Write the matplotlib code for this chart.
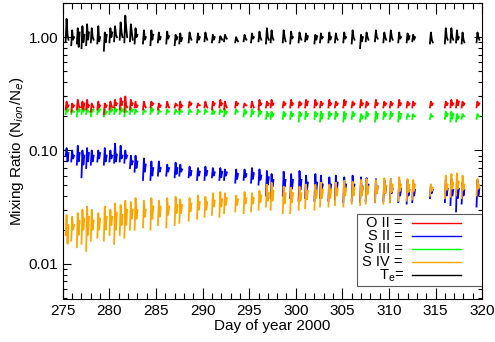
import numpy as np
import matplotlib
matplotlib.use("Agg")
import matplotlib.pyplot as plt
from matplotlib.ticker import FixedLocator, FuncFormatter, MultipleLocator
from matplotlib.patches import Rectangle

plt.rcParams['font.family'] = ['Liberation Sans', 'DejaVu Sans']

# start day of each observing segment
seg_day = [275.3, 275.9, 276.5, 277.0, 277.5, 278.0, 278.7, 279.4, 280.0, 280.5,
           281.1, 281.6, 282.2, 282.7, 283.6, 284.4, 285.2, 286.1, 287.0, 287.5,
           288.5, 289.4, 290.2, 291.0, 291.8, 292.3, 293.5, 294.4, 295.2, 296.0,
           296.8, 297.3, 298.6, 299.4, 300.3, 301.0, 302.0, 302.6, 303.5, 304.2,
           305.1, 306.0, 306.9, 307.5, 308.5, 309.4, 310.1, 311.0, 311.9, 312.5,
           314.4, 316.0, 316.6, 317.2, 317.8, 319.4]

# four samples per segment
te = [[0.92, 1.45, 1.05, 0.95], [0.85, 1.15, 0.95, 1.0], [0.88, 1.2, 0.82, 1.1], [0.8, 1.25, 0.9, 1.05],
      [0.85, 1.3, 0.95, 1.1], [0.9, 1.2, 1.0, 0.95], [0.88, 1.25, 0.92, 1.0], [0.76, 1.1, 0.9, 1.05],
      [0.9, 1.2, 1.0, 1.1], [0.92, 1.25, 1.05, 1.0], [0.95, 1.35, 1.1, 1.0], [0.9, 1.55, 1.2, 1.0],
      [0.92, 1.3, 1.1, 0.95], [0.88, 1.2, 1.0, 1.05], [0.88, 1.15, 0.95, 1.0], [0.85, 1.15, 0.95, 1.05],
      [0.9, 1.1, 0.95, 1.0], [0.88, 1.12, 0.97, 1.02], [0.85, 1.05, 0.95, 1.0], [0.88, 1.08, 0.92, 0.98],
      [0.9, 1.1, 1.0, 0.95], [0.9, 1.08, 0.95, 1.0], [0.92, 1.1, 1.0, 0.95], [0.9, 1.05, 0.95, 1.0],
      [0.9, 1.02, 0.98, 0.95], [0.92, 1.05, 1.0, 0.97], [0.9, 1.0, 0.95, 0.92], [0.92, 1.05, 0.98, 0.95],
      [0.9, 1.08, 0.97, 1.0], [0.92, 1.12, 1.0, 0.95], [0.88, 1.2, 1.0, 0.95], [0.9, 1.15, 1.0, 0.95],
      [0.9, 1.15, 1.0, 0.92], [0.88, 1.12, 0.97, 1.0], [0.9, 1.1, 1.0, 0.95], [0.92, 1.08, 0.95, 1.02],
      [0.88, 1.05, 0.95, 1.02], [0.9, 1.08, 0.97, 1.0], [0.9, 1.1, 0.95, 1.0], [0.9, 1.08, 0.98, 0.95],
      [0.9, 1.1, 0.97, 1.0], [0.88, 1.15, 1.0, 0.95], [0.8, 1.05, 0.92, 1.0], [0.92, 1.1, 1.0, 0.95],
      [0.92, 1.15, 1.0, 0.97], [0.9, 1.1, 1.0, 0.95], [0.92, 1.15, 1.0, 0.95], [0.9, 1.1, 0.97, 1.0],
      [0.9, 1.08, 0.95, 1.02], [0.92, 1.05, 0.95, 1.0], [0.88, 1.1, 0.95, 0.9], [0.88, 1.2, 1.0, 0.95],
      [0.9, 1.2, 1.0, 0.95], [0.9, 1.15, 0.95, 1.0], [0.88, 1.1, 0.95, 0.9], [0.9, 1.1, 1.0, 0.95]]

o2 = [[0.23, 0.27, 0.24, 0.25], [0.22, 0.26, 0.24, 0.25], [0.23, 0.28, 0.25, 0.24], [0.24, 0.27, 0.23, 0.26],
      [0.23, 0.28, 0.24, 0.25], [0.22, 0.26, 0.25, 0.24], [0.23, 0.27, 0.24, 0.25], [0.21, 0.26, 0.24, 0.25],
      [0.23, 0.27, 0.25, 0.24], [0.24, 0.28, 0.25, 0.26], [0.23, 0.29, 0.25, 0.27], [0.22, 0.30, 0.25, 0.24],
      [0.23, 0.28, 0.25, 0.26], [0.24, 0.27, 0.24, 0.25], [0.23, 0.27, 0.25, 0.24], [0.24, 0.27, 0.25, 0.26],
      [0.23, 0.26, 0.24, 0.25], [0.24, 0.27, 0.25, 0.24], [0.24, 0.26, 0.25, 0.25], [0.23, 0.27, 0.24, 0.25],
      [0.24, 0.27, 0.25, 0.26], [0.24, 0.26, 0.25, 0.25], [0.24, 0.27, 0.25, 0.24], [0.23, 0.27, 0.25, 0.26],
      [0.24, 0.28, 0.25, 0.26], [0.23, 0.27, 0.25, 0.24], [0.24, 0.27, 0.25, 0.26], [0.24, 0.26, 0.25, 0.25],
      [0.24, 0.27, 0.25, 0.24], [0.23, 0.28, 0.25, 0.26], [0.24, 0.27, 0.25, 0.26], [0.24, 0.28, 0.25, 0.26],
      [0.24, 0.27, 0.25, 0.26], [0.24, 0.28, 0.25, 0.26], [0.24, 0.27, 0.25, 0.26], [0.24, 0.28, 0.25, 0.27],
      [0.24, 0.28, 0.25, 0.26], [0.24, 0.27, 0.25, 0.26], [0.24, 0.28, 0.25, 0.26], [0.24, 0.27, 0.25, 0.26],
      [0.24, 0.28, 0.25, 0.27], [0.24, 0.27, 0.25, 0.26], [0.24, 0.28, 0.25, 0.26], [0.24, 0.27, 0.25, 0.26],
      [0.24, 0.28, 0.25, 0.26], [0.24, 0.27, 0.25, 0.26], [0.24, 0.27, 0.25, 0.26], [0.24, 0.28, 0.25, 0.26],
      [0.24, 0.27, 0.25, 0.26], [0.24, 0.27, 0.25, 0.26], [0.24, 0.27, 0.25, 0.26], [0.24, 0.27, 0.25, 0.26],
      [0.24, 0.28, 0.25, 0.26], [0.24, 0.28, 0.25, 0.27], [0.24, 0.27, 0.25, 0.26], [0.24, 0.27, 0.25, 0.26]]

s3 = [[0.21, 0.24, 0.22, 0.23], [0.21, 0.23, 0.22, 0.22], [0.20, 0.24, 0.22, 0.23], [0.21, 0.24, 0.22, 0.23],
      [0.21, 0.24, 0.22, 0.22], [0.20, 0.23, 0.22, 0.23], [0.21, 0.24, 0.22, 0.23], [0.20, 0.23, 0.21, 0.22],
      [0.21, 0.24, 0.22, 0.23], [0.21, 0.24, 0.22, 0.23], [0.21, 0.24, 0.22, 0.23], [0.20, 0.24, 0.22, 0.22],
      [0.21, 0.24, 0.22, 0.23], [0.21, 0.23, 0.22, 0.22], [0.21, 0.23, 0.22, 0.22], [0.21, 0.24, 0.22, 0.23],
      [0.21, 0.23, 0.22, 0.22], [0.21, 0.23, 0.22, 0.22], [0.21, 0.23, 0.22, 0.22], [0.21, 0.23, 0.22, 0.22],
      [0.21, 0.23, 0.22, 0.22], [0.21, 0.23, 0.22, 0.22], [0.21, 0.23, 0.22, 0.22], [0.21, 0.23, 0.21, 0.22],
      [0.21, 0.23, 0.22, 0.22], [0.20, 0.23, 0.21, 0.22], [0.21, 0.23, 0.22, 0.22], [0.20, 0.23, 0.21, 0.22],
      [0.20, 0.23, 0.21, 0.22], [0.20, 0.23, 0.21, 0.22], [0.19, 0.22, 0.20, 0.21], [0.19, 0.22, 0.20, 0.21],
      [0.19, 0.22, 0.20, 0.21], [0.19, 0.22, 0.20, 0.21], [0.18, 0.22, 0.20, 0.21], [0.19, 0.22, 0.20, 0.21],
      [0.19, 0.22, 0.20, 0.21], [0.18, 0.22, 0.19, 0.21], [0.19, 0.22, 0.20, 0.21], [0.19, 0.22, 0.20, 0.21],
      [0.18, 0.22, 0.19, 0.21], [0.19, 0.22, 0.20, 0.21], [0.18, 0.21, 0.19, 0.20], [0.19, 0.22, 0.20, 0.21],
      [0.18, 0.22, 0.19, 0.21], [0.19, 0.22, 0.20, 0.21], [0.19, 0.22, 0.20, 0.21], [0.18, 0.22, 0.19, 0.21],
      [0.19, 0.21, 0.20, 0.20], [0.19, 0.21, 0.20, 0.20], [0.19, 0.21, 0.20, 0.20], [0.19, 0.22, 0.20, 0.21],
      [0.18, 0.22, 0.19, 0.21], [0.18, 0.21, 0.19, 0.20], [0.19, 0.21, 0.20, 0.20], [0.19, 0.21, 0.20, 0.20]]

s2 = [[0.09, 0.105, 0.08, 0.095], [0.08, 0.10, 0.085, 0.09], [0.075, 0.11, 0.08, 0.095], [0.058, 0.10, 0.075, 0.09],
      [0.07, 0.105, 0.08, 0.095], [0.075, 0.10, 0.08, 0.09], [0.08, 0.10, 0.085, 0.095], [0.075, 0.105, 0.08, 0.09],
      [0.08, 0.10, 0.085, 0.09], [0.078, 0.115, 0.08, 0.092], [0.08, 0.11, 0.085, 0.09], [0.078, 0.10, 0.085, 0.09],
      [0.07, 0.09, 0.075, 0.08], [0.065, 0.09, 0.07, 0.08], [0.055, 0.085, 0.065, 0.075], [0.055, 0.08, 0.06, 0.07],
      [0.06, 0.08, 0.065, 0.07], [0.06, 0.075, 0.065, 0.07], [0.058, 0.078, 0.062, 0.07], [0.06, 0.075, 0.065, 0.068],
      [0.058, 0.072, 0.06, 0.066], [0.055, 0.07, 0.06, 0.065], [0.055, 0.072, 0.06, 0.066], [0.058, 0.07, 0.06, 0.064],
      [0.055, 0.07, 0.058, 0.065], [0.055, 0.068, 0.06, 0.064], [0.052, 0.068, 0.056, 0.062], [0.055, 0.068, 0.058, 0.062],
      [0.052, 0.07, 0.056, 0.063], [0.05, 0.068, 0.055, 0.06], [0.04, 0.066, 0.05, 0.058], [0.038, 0.062, 0.048, 0.055],
      [0.04, 0.065, 0.048, 0.055], [0.038, 0.062, 0.046, 0.055], [0.036, 0.066, 0.045, 0.055], [0.038, 0.06, 0.045, 0.052],
      [0.036, 0.062, 0.044, 0.052], [0.038, 0.06, 0.045, 0.05], [0.036, 0.058, 0.044, 0.05], [0.037, 0.06, 0.045, 0.052],
      [0.035, 0.058, 0.043, 0.05], [0.036, 0.06, 0.044, 0.05], [0.035, 0.058, 0.042, 0.048], [0.036, 0.057, 0.043, 0.05],
      [0.035, 0.056, 0.042, 0.048], [0.036, 0.055, 0.042, 0.048], [0.035, 0.056, 0.042, 0.046], [0.035, 0.055, 0.04, 0.046],
      [0.034, 0.054, 0.04, 0.045], [0.035, 0.052, 0.04, 0.045], [0.038, 0.05, 0.042, 0.045], [0.035, 0.055, 0.04, 0.046],
      [0.033, 0.056, 0.04, 0.045], [0.029, 0.055, 0.038, 0.046], [0.034, 0.052, 0.04, 0.045], [0.032, 0.055, 0.04, 0.046]]

s4 = [[0.018, 0.027, 0.015, 0.022], [0.016, 0.026, 0.02, 0.022], [0.014, 0.028, 0.018, 0.024], [0.015, 0.03, 0.02, 0.025],
      [0.013, 0.032, 0.018, 0.026], [0.016, 0.03, 0.02, 0.024], [0.017, 0.028, 0.02, 0.025], [0.016, 0.032, 0.02, 0.026],
      [0.018, 0.03, 0.022, 0.026], [0.015, 0.034, 0.02, 0.028], [0.018, 0.033, 0.022, 0.027], [0.017, 0.036, 0.022, 0.03],
      [0.02, 0.035, 0.025, 0.03], [0.02, 0.038, 0.025, 0.03], [0.021, 0.036, 0.026, 0.03], [0.02, 0.038, 0.025, 0.032],
      [0.022, 0.036, 0.026, 0.032], [0.021, 0.038, 0.027, 0.032], [0.022, 0.039, 0.028, 0.033], [0.023, 0.037, 0.028, 0.033],
      [0.024, 0.038, 0.029, 0.034], [0.025, 0.04, 0.03, 0.035], [0.026, 0.039, 0.03, 0.035], [0.027, 0.042, 0.032, 0.036],
      [0.026, 0.043, 0.032, 0.037], [0.028, 0.042, 0.033, 0.038], [0.029, 0.04, 0.033, 0.037], [0.028, 0.043, 0.034, 0.038],
      [0.029, 0.042, 0.034, 0.038], [0.03, 0.044, 0.035, 0.04], [0.032, 0.05, 0.036, 0.042], [0.03, 0.052, 0.036, 0.044],
      [0.028, 0.048, 0.034, 0.042], [0.028, 0.047, 0.035, 0.042], [0.03, 0.048, 0.036, 0.042], [0.031, 0.05, 0.037, 0.044],
      [0.03, 0.05, 0.038, 0.044], [0.032, 0.052, 0.038, 0.045], [0.032, 0.05, 0.038, 0.045], [0.033, 0.052, 0.04, 0.046],
      [0.032, 0.054, 0.04, 0.046], [0.034, 0.053, 0.04, 0.047], [0.033, 0.055, 0.04, 0.048], [0.034, 0.056, 0.041, 0.048],
      [0.035, 0.055, 0.042, 0.048], [0.034, 0.057, 0.042, 0.049], [0.035, 0.056, 0.043, 0.05], [0.036, 0.058, 0.044, 0.05],
      [0.036, 0.056, 0.043, 0.05], [0.037, 0.055, 0.044, 0.05], [0.04, 0.05, 0.044, 0.047], [0.038, 0.06, 0.045, 0.05],
      [0.039, 0.062, 0.046, 0.052], [0.04, 0.063, 0.046, 0.053], [0.038, 0.06, 0.045, 0.05], [0.04, 0.056, 0.046, 0.05]]

cadence = [0.0, 0.1, 0.2, 0.3]


def segments(vals):
    t, y = [], []
    for d, row in zip(seg_day, vals):
        t += [d + c for c in cadence] + [np.nan]
        y += list(row) + [np.nan]
    return np.array(t), np.array(y)


fig = plt.figure(figsize=(4.95, 3.42), dpi=100)
ax = fig.add_axes([0.127, 0.126, 0.847, 0.865])

lw = 1.3
ax.plot(*segments(te), color='black', lw=lw)
ax.plot(*segments(s3), color='#00ff00', lw=lw)
ax.plot(*segments(o2), color='#ff0000', lw=lw)
ax.plot(*segments(s2), color='#0000ff', lw=lw)
ax.plot(*segments(s4), color='#ffa500', lw=lw)

ax.set_yscale('log')
ax.set_xlim(275, 320)
ax.set_ylim(0.0049, 2.0)
ax.xaxis.set_major_locator(MultipleLocator(5))
ax.xaxis.set_minor_locator(MultipleLocator(1))
ax.yaxis.set_major_locator(FixedLocator([0.01, 0.1, 1.0]))
ax.yaxis.set_major_formatter(FuncFormatter(lambda v, p: '%.2f' % v))
ax.tick_params(which='both', direction='in', top=True, right=True, labelsize=11)
ax.tick_params(axis='x', which='major', length=8, width=0.8)
ax.tick_params(axis='x', which='minor', length=4, width=0.8)
ax.tick_params(axis='y', which='major', length=6, width=0.8)
ax.tick_params(axis='y', which='minor', length=3, width=0.8)
for s in ax.spines.values():
    s.set_linewidth(0.8)

ax.set_xlabel('Day of year 2000', fontsize=11, labelpad=1)
ax.set_ylabel('Mixing Ratio (N$_{ion}$/N$_e$)', fontsize=11, labelpad=2)

# legend drawn by hand: labels right-aligned with line samples after them
labels = ['O II =', 'S II =', 'S III =', 'S IV =']
colors = ['#ff0000', '#0000ff', '#00ff00', '#ffa500', 'black']
ax.add_patch(Rectangle((0.702, 0.044), 0.298, 0.243, transform=ax.transAxes,
                       facecolor='white', edgecolor='0.35', lw=0.8, zorder=5))
rows = [0.257, 0.213, 0.169, 0.125, 0.081]
for lab, yy in zip(labels, rows):
    ax.text(0.811, yy, lab, transform=ax.transAxes, ha='right', va='center',
            fontsize=10.5, zorder=6)
# T_e row built from plain pieces
yt = rows[4]
ax.text(0.811, yt, '=', transform=ax.transAxes, ha='right', va='center',
        fontsize=10.5, zorder=6)
ax.text(0.790, yt - 0.012, 'e', transform=ax.transAxes, ha='right', va='center',
        fontsize=7.5, zorder=6)
ax.text(0.776, yt, 'T', transform=ax.transAxes, ha='right', va='center',
        fontsize=10.5, zorder=6)
for col, yy in zip(colors, rows):
    ax.plot([0.833, 0.950], [yy, yy], transform=ax.transAxes, color=col,
            lw=1.0, zorder=6)

fig.savefig('out.png', dpi=100)
